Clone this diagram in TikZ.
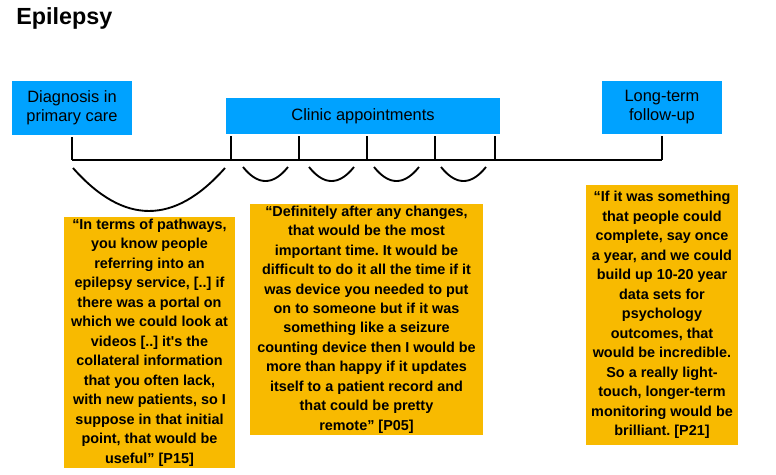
\documentclass[tikz,border=0pt]{standalone}
\usepackage{fontspec}
\setmainfont{Liberation Sans}
\usetikzlibrary{positioning}
\frenchspacing

\definecolor{stageblue}{RGB}{0,162,255}
\definecolor{quoteyellow}{RGB}{248,186,0}

\begin{document}
\begin{tikzpicture}[x=0.75pt,y=-0.75pt]

      \tikzstyle{stagebox}=[rectangle,fill=stageblue,inner sep=0pt,
        align=center,font=\fontsize{12.3}{14.25}\selectfont]
      \tikzstyle{quotebox}=[rectangle,fill=quoteyellow,inner sep=0pt,
        align=center,font=\bfseries\fontsize{10.8}{14.6}\selectfont]
      \tikzstyle{line}=[line width=1.5pt,black]
      \tikzstyle{tick}=[line width=1.5pt,black,shorten <=1.5pt]
      \tikzstyle{span}=[line width=1.4pt,black]

      \useasboundingbox (0,0) rectangle (776,475);

      \node(TITLE)[anchor=base west,inner sep=0pt,
        font=\bfseries\fontsize{17.5}{21}\selectfont] at (16,24) {Epilepsy};

      % stages
      \node(DIAGNOSIS)[stagebox,minimum width=90pt,minimum height=40.5pt]
        at (72,108) {Diagnosis in\\primary care};
      \node(CLINIC)[stagebox,minimum width=205.5pt,minimum height=27pt]
        at (363,116) {Clinic appointments};
      \node(FOLLOWUP)[stagebox,minimum width=90pt,minimum height=39.75pt]
        at (662,107.5) {Long-term\\follow-up};

      % timeline
      \coordinate(START) at (72,160);
      \coordinate(END) at (662,160);
      \draw [line] (START)--(END);
      \draw [tick] (DIAGNOSIS)--(START);
      \draw [tick] (FOLLOWUP)--(END);
      \foreach \x [count=\i] in {231,299,367,435,495} {
        \coordinate(VISIT\i) at (\x,160);
        \draw [tick] (VISIT\i|-CLINIC.south)--(VISIT\i);
      }

      % spans between visits
      \coordinate(SPANA) at (73,168);
      \coordinate(SPANB) at (225,168);
      \draw [span] (SPANA) .. controls +(50.7,57.3) and +(-50.7,57.3) .. (SPANB);
      \foreach \x [count=\i] in {243,309,374,441} {
        \coordinate(GAPA\i) at (\x,167);
        \coordinate(GAPB\i) at (\x+45,167);
        \draw [span] (GAPA\i) .. controls +(15,18.7) and +(-15,18.7) .. (GAPB\i);
      }

      % quotes
      \node(QUOTE1)[quotebox,minimum width=128.25pt,minimum height=188.25pt]
        at (149.5,342.5) {``In terms of pathways,\\you know people\\referring into an\\
        epilepsy service, [..] if\\there was a portal on\\which we could look at\\
        videos [..] it\textquotesingle s the\\collateral information\\that you often lack,\\
        with new patients, so I\\suppose in that initial\\point, that would be\\
        useful'' [P15]};
      \node(QUOTE2)[quotebox,minimum width=174.75pt,minimum height=173.25pt]
        at (366.5,319.5) {``Definitely after any changes,\\that would be the most\\
        important time. It would be\\difficult to do it all the time if it\\
        was device you needed to put\\on to someone but if it was\\
        something like a seizure\\counting device then I would be\\
        more than happy if it updates\\itself to a patient record and\\
        that could be pretty\\remote'' [P05]};
      \node(QUOTE3)[quotebox,minimum width=114pt,minimum height=195pt]
        at (662,315) {``If it was something\\that people could\\complete, say once\\
        a year, and we could\\build up 10-20 year\\data sets for\\psychology\\
        outcomes, that\\would be incredible.\\So a really light-\\touch, longer-term\\
        monitoring would be\\brilliant. [P21]};

    \end{tikzpicture}
\end{document}
